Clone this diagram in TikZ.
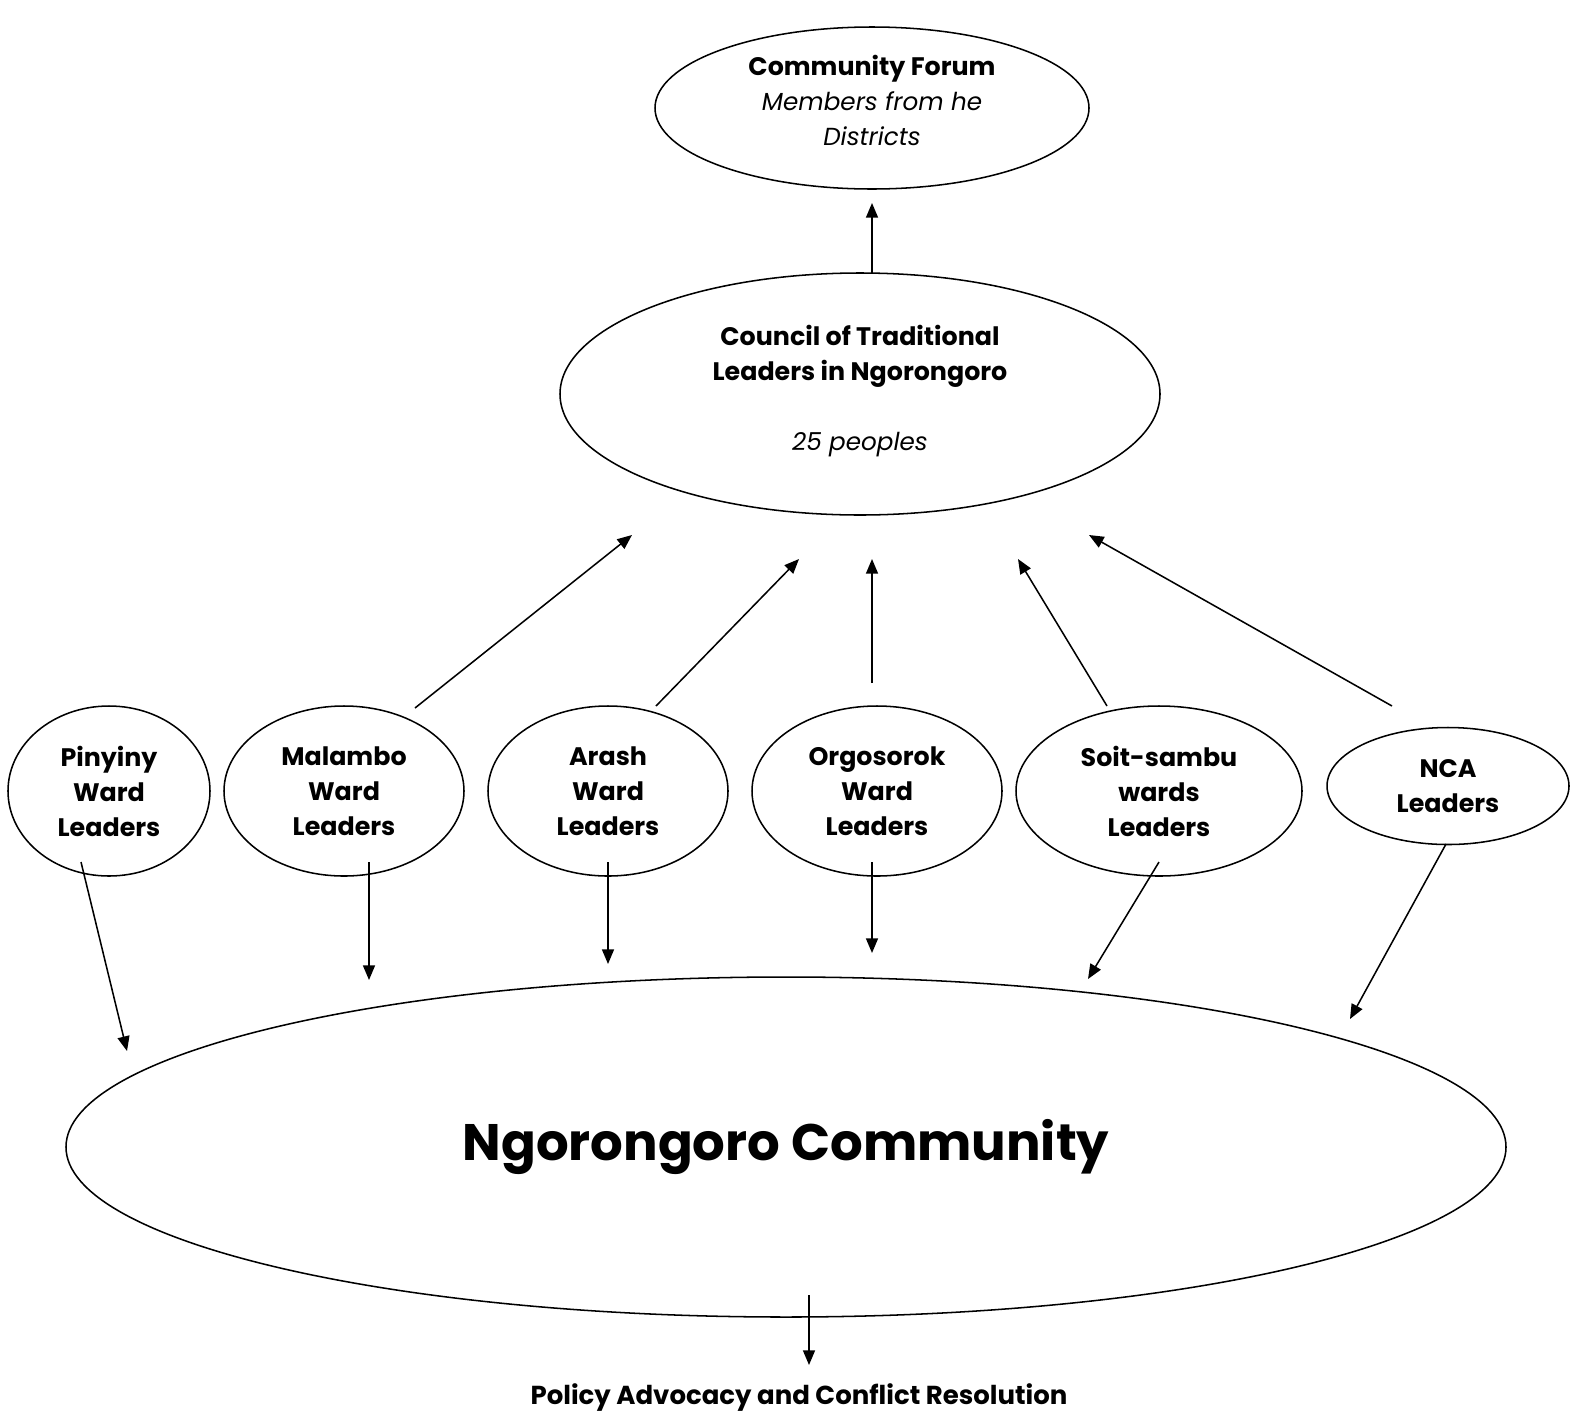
\documentclass[tikz,border=0pt]{standalone}
\usepackage{fontspec}
\setmainfont{Poppins}
\usetikzlibrary{shapes.geometric,arrows.meta}
\begin{document}
\begin{tikzpicture}[x=0.75pt,y=-0.75pt,
  ell/.style 2 args={draw,ellipse,line width=1.15pt,inner sep=0pt,align=center,
    minimum width=0.75*#1 pt,minimum height=0.75*#2 pt,
    font=\bfseries\fontsize{19}{26.25}\selectfont},
  txt/.style={inner sep=0pt,align=center,font=\bfseries\fontsize{19}{26.25}\selectfont},
  arr/.style={line width=1.15pt,-{Triangle[length=11pt,width=9pt]}}]
\newcommand\itpart[1]{{\mdseries\itshape\fontsize{18.5}{26.25}\selectfont #1}}
\useasboundingbox (0,0) rectangle (1580,1414);
\node[ell={434}{162}] (forum) at (872,108) {};
\node[txt] (forumtext) at (872,100)
  {Community Forum\\\itpart{Members from he}\\\itpart{Districts}};
\node[ell={600}{242}] (council) at (860,394) {};
\node[txt] (counciltext) at (860,391)
  {Council of Traditional\\Leaders in Ngorongoro\\[26.25pt]\itpart{25 peoples}};
\node[ell={202}{170}] (pin) at (109,791) {Pinyiny\\Ward\\Leaders};
\node[ell={240}{170}] (mal) at (344,791) {Malambo\\Ward\\Leaders};
\node[ell={240}{170}] (ara) at (608,791) {Arash\\Ward\\Leaders};
\node[ell={250}{170}] (org) at (877,791) {Orgosorok\\Ward\\Leaders};
\node[ell={286}{170}] (soi) at (1159,791) {Soit-sambu\\wards\\Leaders};
\node[ell={242}{117}] (nca) at (1448,786) {NCA\\Leaders};
\node[ell={1440}{340},font=\bfseries\fontsize{38.5}{46}\selectfont] (comm) at (786,1147) {Ngorongoro Community};
\node[font=\bfseries\fontsize{19.5}{22}\selectfont] (policy) at (799,1398) {Policy Advocacy and Conflict Resolution};
% free ends
\coordinate (cF) at (872,203);
\coordinate (cC) at (872,273);
\coordinate (m1) at (415,708); \coordinate (t1) at (632,535);
\coordinate (a1) at (656,706); \coordinate (t2) at (799,559);
\coordinate (o1) at (872,683); \coordinate (t3) at (872,559);
\coordinate (s1) at (1107,706); \coordinate (t4) at (1018,559);
\coordinate (n1) at (1392,706); \coordinate (t5) at (1089,535);
\coordinate (p2) at (81,862); \coordinate (b1) at (127,1051);
\coordinate (m2) at (369,862); \coordinate (b2) at (369,980);
\coordinate (a2) at (608,862); \coordinate (b3) at (608,964);
\coordinate (o2) at (872,862); \coordinate (b4) at (872,953);
\coordinate (s2) at (1159,862); \coordinate (b5) at (1088,979);
\coordinate (n2) at (1446,844); \coordinate (b6) at (1350,1019);
\coordinate (c1) at (809,1295); \coordinate (c2) at (809,1365);
\draw[arr] (cC) -- (cF);
\draw[arr] (m1) -- (t1);
\draw[arr] (a1) -- (t2);
\draw[arr] (o1) -- (t3);
\draw[arr] (s1) -- (t4);
\draw[arr] (n1) -- (t5);
\draw[arr] (p2) -- (b1);
\draw[arr] (m2) -- (b2);
\draw[arr] (a2) -- (b3);
\draw[arr] (o2) -- (b4);
\draw[arr] (s2) -- (b5);
\draw[arr] (n2) -- (b6);
\draw[arr] (c1) -- (c2);
\end{tikzpicture}
\end{document}
